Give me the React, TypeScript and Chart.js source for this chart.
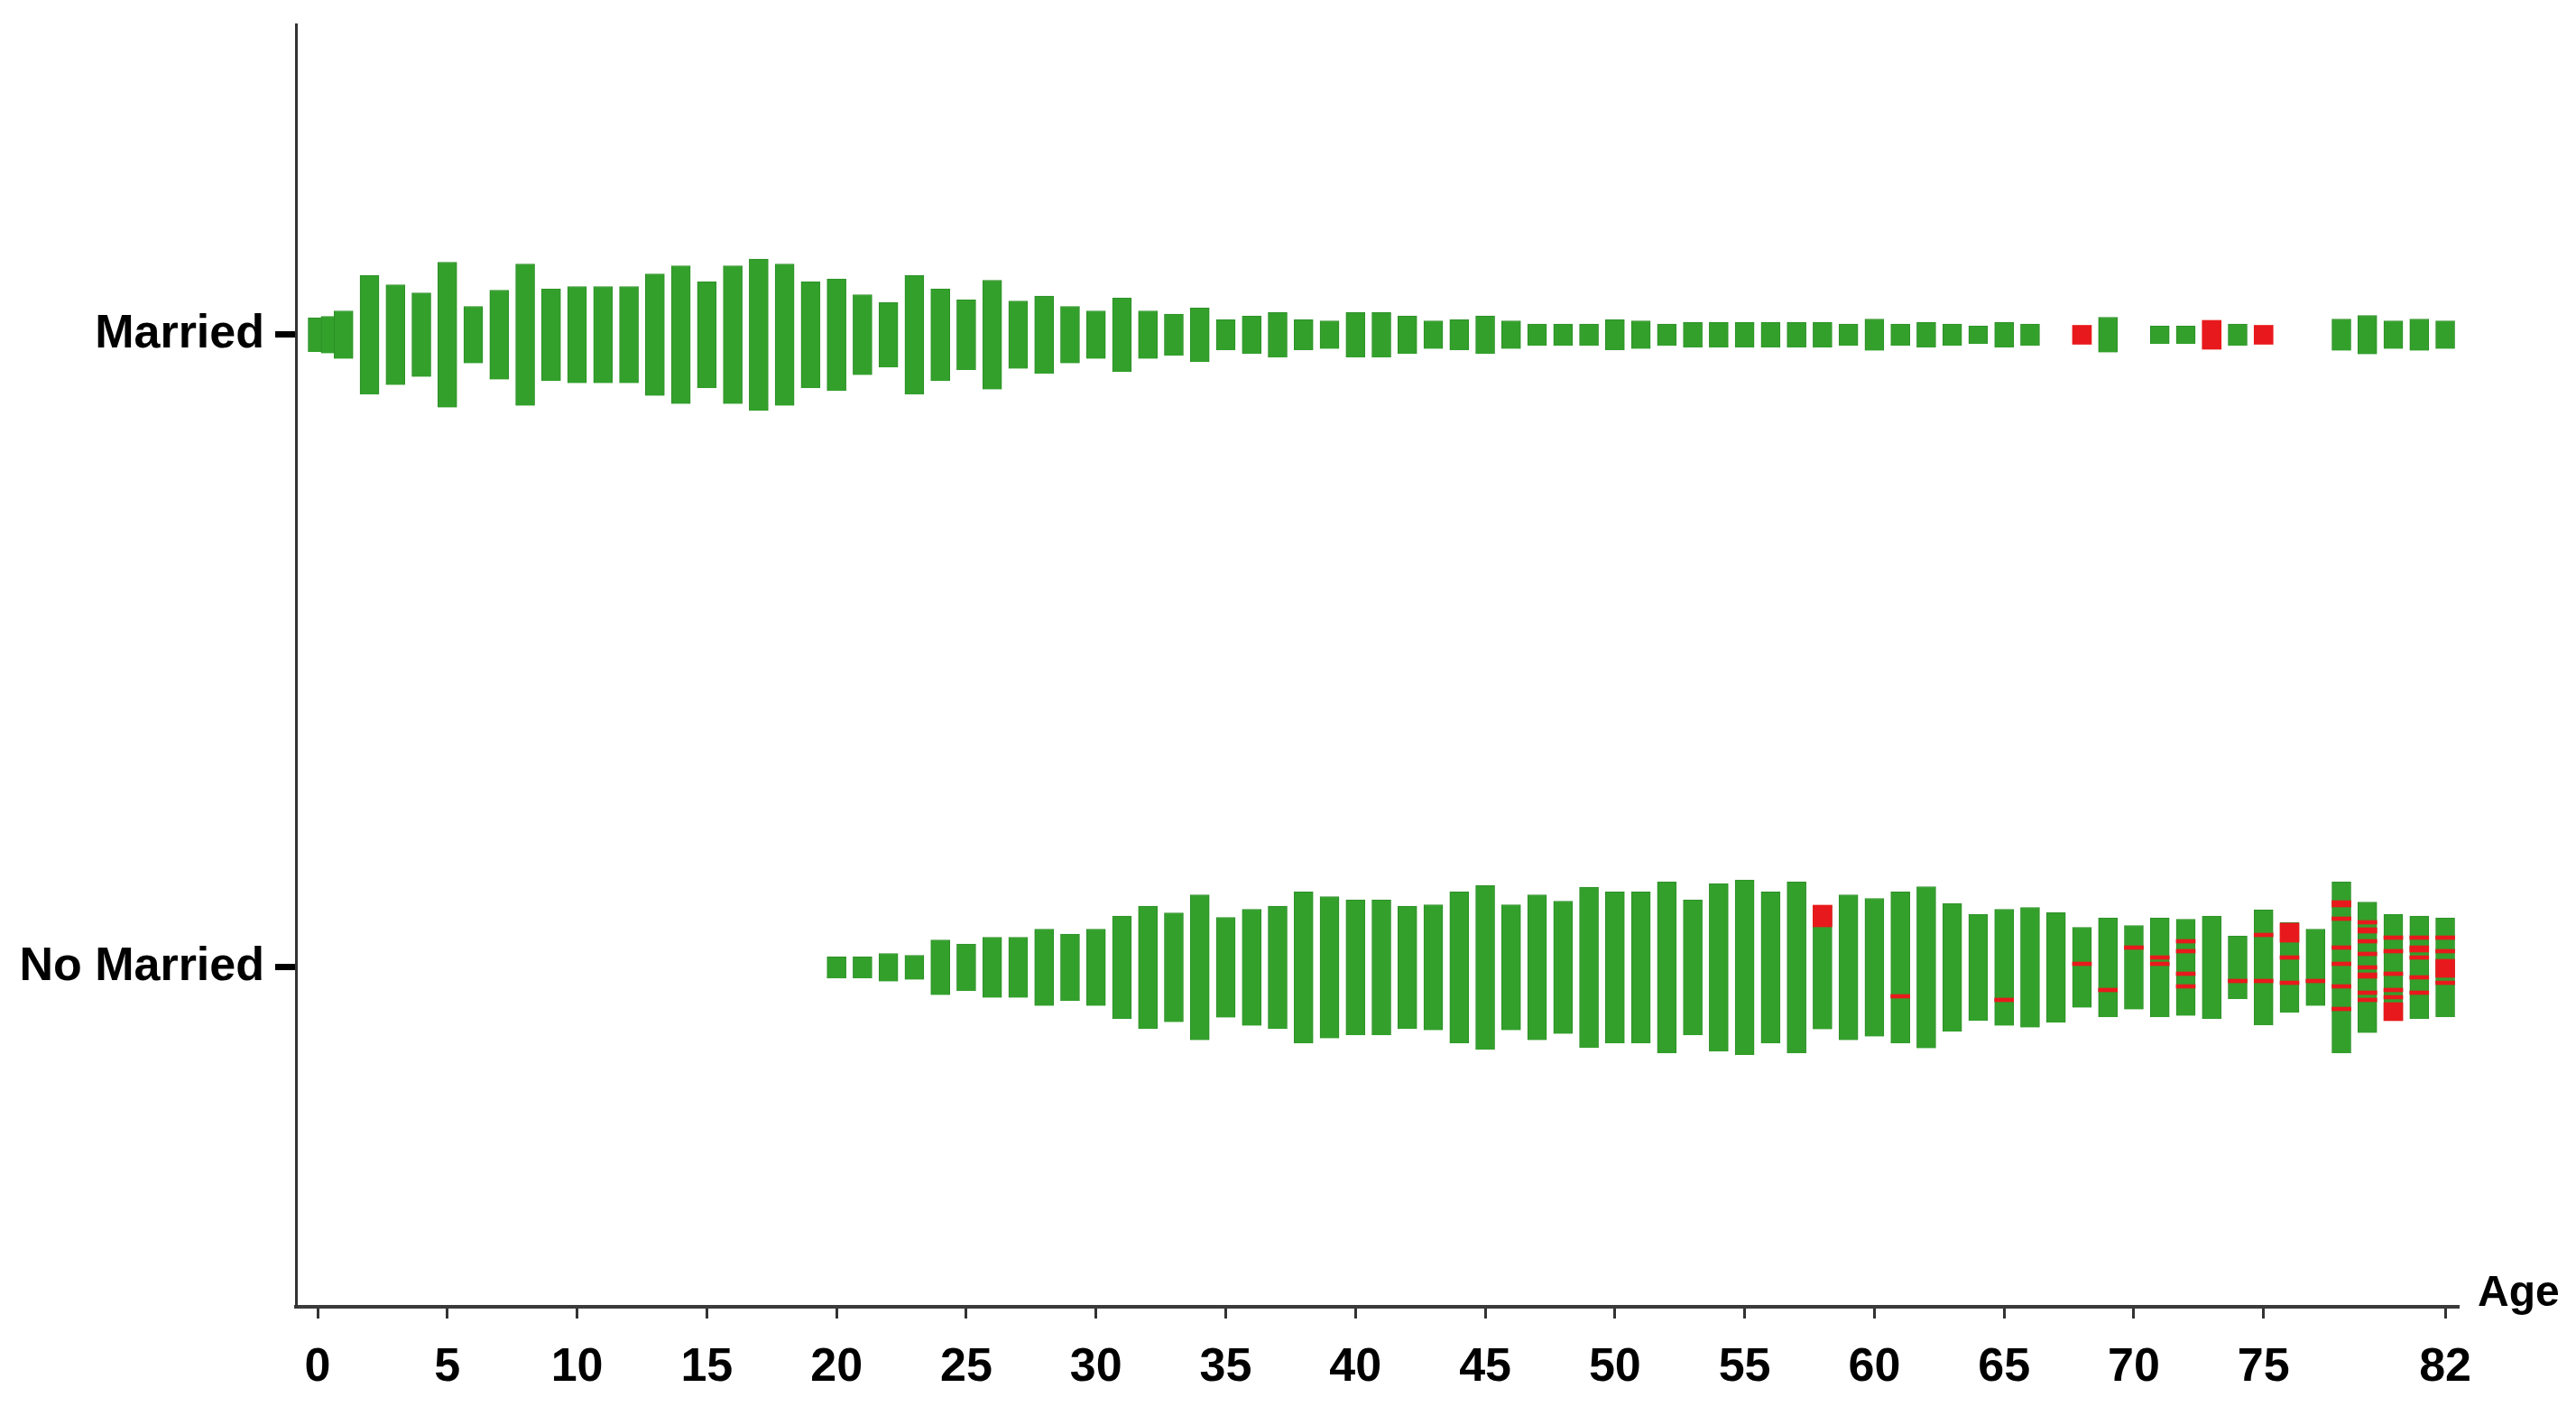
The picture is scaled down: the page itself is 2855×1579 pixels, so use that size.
import React, { useEffect, useRef } from "react";
import { Chart, registerables } from "chart.js";

Chart.register(...registerables);

// ---- categories / ticks ----
const CATEGORIES = ["No Married", "Married"]; // y positions 0 and 1
const X_TICKS = [0, 5, 10, 15, 20, 25, 30, 35, 40, 45, 50, 55, 60, 65, 70, 75, 82];
const X_TITLE = "Age";

// ---- Married: ages and relative frequency (bar height) ----
const MARRIED_AGES = [
  0, 0.5, 1, 2, 3, 4, 5, 6, 7, 8, 9, 10, 11, 12, 13, 14, 15, 16, 17, 18, 19, 20,
  21, 22, 23, 24, 25, 26, 27, 28, 29, 30, 31, 32, 33, 34, 35, 36, 37, 38, 39, 40,
  41, 42, 43, 44, 45, 46, 47, 48, 49, 50, 51, 52, 53, 54, 55, 56, 57, 58, 59, 60,
  61, 62, 63, 64, 65, 66, 69, 71, 72, 74, 78, 79, 80, 81, 82,
];
const MARRIED_FREQ = [
  38, 41, 53, 132, 111, 93, 161, 63, 99, 157, 102, 107, 107, 107, 135, 153, 118, 153, 168, 157, 118, 124,
  89, 72, 132, 102, 78, 121, 75, 86, 63, 53, 82, 53, 46, 60, 34, 42, 50, 34, 31, 50,
  50, 42, 31, 34, 42, 31, 24, 24, 24, 34, 31, 24, 28, 28, 28, 28, 28, 28, 24, 35,
  24, 28, 24, 20, 28, 24, 39, 20, 20, 24, 35, 43, 31, 35, 31,
];
// Married ages drawn in red
const MARRIED_RED_AGES = [68, 73, 75];
const MARRIED_RED_FREQ = [21, 32, 21];

// ---- No Married ----
const NOMARRIED_AGES = [
  20, 21, 22, 23, 24, 25, 26, 27, 28, 29, 30, 31, 32, 33, 34, 35, 36, 37, 38, 39, 40,
  41, 42, 43, 44, 45, 46, 47, 48, 49, 50, 51, 52, 53, 54, 55, 56, 57, 58, 59, 60,
  61, 62, 63, 64, 65, 66, 67, 68, 69, 70, 71, 72, 73, 74, 75, 76, 77, 78, 79, 80, 81, 82,
];
const NOMARRIED_FREQ = [
  24, 24, 31, 27, 61, 52, 67, 67, 85, 74, 85, 114, 136, 121, 161, 111, 129, 136, 168, 157, 150,
  150, 136, 139, 168, 182, 139, 161, 147, 178, 168, 168, 190, 150, 186, 194, 168, 190, 137, 161, 153,
  168, 179, 142, 118, 129, 133, 122, 89, 110, 93, 110, 107, 114, 70, 128, 100, 85, 190, 145, 118, 114, 110,
];
// red segments inside No Married bars (offset from the row centre, same units, + = up)
const NOMARRIED_RED_AGES = [
  58, 61, 65, 68, 69, 70, 71, 71, 72, 72, 72, 72, 74, 75, 75, 76, 76, 76, 77,
  78, 78, 78, 78, 78, 78, 79, 79, 79, 79, 79, 79, 79, 79,
  80, 80, 80, 80, 80, 80, 81, 81, 81, 81, 81, 82, 82, 82, 82,
];
const NOMARRIED_RED_LOW = [
  45, -34, -38, 2, -27, 20, 9, 2, 27, 16, -9, -23, -17, 34, -17, 28, 9, -19, -17,
  67, 52, 20, 2, -23, -48, 48, 38, 27, 13, -2, -12, -30, -38,
  31, 16, -9, -27, -35, -59, 31, 17, 9, -13, -30, 31, 16, -11, -19,
];
const NOMARRIED_RED_HIGH = [
  69, -30, -34, 6, -23, 24, 13, 6, 31, 20, -5, -19, -13, 38, -13, 49, 13, -15, -13,
  74, 56, 24, 6, -19, -44, 52, 44, 31, 17, 2, -6, -26, -34,
  35, 20, -5, -23, -31, -39, 35, 24, 13, -9, -26, 35, 20, 9, -15,
];

const FREQ_PER_CATEGORY = 701; // frequency units spanning the gap between rows

const GREEN = "#33a02c";
const GREEN_EDGE = "#2b8e25";
const RED = "#e8191c";
const FONT_FAMILY = '"Liberation Sans", Arial, sans-serif';

export default function App() {
  const canvasRef = useRef<HTMLCanvasElement | null>(null);

  useEffect(() => {
    if (!canvasRef.current) return;
    const k = 1 / FREQ_PER_CATEGORY;
    const yMarried = CATEGORIES.indexOf("Married");
    const yNo = CATEGORIES.indexOf("No Married");

    const bars = (ages: number[], freq: number[], c: number) =>
      ages.map((a, i) => ({ x: a, y: [c - (freq[i] * k) / 2, c + (freq[i] * k) / 2] }));
    const segs = (ages: number[], lo: number[], hi: number[], c: number) =>
      ages.map((a, i) => ({ x: a, y: [c + lo[i] * k, c + hi[i] * k] }));

    const greenData = [
      ...bars(MARRIED_AGES, MARRIED_FREQ, yMarried),
      ...bars(NOMARRIED_AGES, NOMARRIED_FREQ, yNo),
    ];
    const redData = [
      ...bars(MARRIED_RED_AGES, MARRIED_RED_FREQ, yMarried),
      ...segs(NOMARRIED_RED_AGES, NOMARRIED_RED_LOW, NOMARRIED_RED_HIGH, yNo),
    ];

    const ageLabel = {
      id: "ageLabel",
      afterDraw(chart: any) {
        const { ctx } = chart;
        const x = chart.scales.x;
        ctx.save();
        ctx.font = `bold 48px ${FONT_FAMILY}`;
        ctx.fillStyle = "#000";
        ctx.textAlign = "left";
        ctx.textBaseline = "alphabetic";
        ctx.fillText(X_TITLE, x.right + 21, x.top - 1);
        ctx.restore();
      },
    };

    const tickFont = { family: FONT_FAMILY, size: 52, weight: "bold" as const };

    const chart = new Chart(canvasRef.current, {
      type: "bar",
      data: {
        datasets: [
          {
            label: "red",
            data: redData as any,
            backgroundColor: RED,
            borderWidth: 0,
            stack: "s",
            order: 0,
          },
          {
            label: "green",
            data: greenData as any,
            backgroundColor: GREEN,
            borderColor: GREEN_EDGE,
            borderWidth: 1,
            stack: "s",
            order: 1,
          },
        ],
      },
      options: {
        animation: false,
        responsive: false,
        maintainAspectRatio: false,
        barThickness: 21,
        layout: { padding: { top: 19, right: 122, bottom: 0, left: 0 } },
        plugins: { legend: { display: false }, tooltip: { enabled: false } },
        scales: {
          x: {
            type: "linear",
            min: -0.835,
            max: 82.52,
            offset: false,
            afterBuildTicks: (s: any) => {
              s.ticks = X_TICKS.map((v) => ({ value: v }));
            },
            afterFit: (s: any) => {
              s.height = 123;
            },
            grid: {
              display: true,
              offset: false,
              drawOnChartArea: false,
              drawTicks: true,
              tickLength: 13,
              tickWidth: 3,
              tickColor: "#333",
            },
            border: { display: true, color: "#3a3a3a", width: 4 },
            ticks: {
              autoSkip: false,
              maxRotation: 0,
              padding: 23,
              color: "#000",
              font: tickFont,
              callback: (v: any) => String(v),
            },
          },
          y: {
            type: "linear",
            min: -0.5364,
            max: 1.4907,
            stacked: false,
            afterBuildTicks: (s: any) => {
              s.ticks = CATEGORIES.map((_, i) => ({ value: i }));
            },
            afterFit: (s: any) => {
              s.width = 320;
              s.paddingTop = 0;
              s.paddingBottom = 0;
            },
            grid: {
              display: true,
              drawOnChartArea: false,
              drawTicks: true,
              tickLength: 23,
              tickWidth: 7,
              tickColor: "#000",
            },
            border: { display: true, color: "#333", width: 3 },
            ticks: {
              padding: 12,
              color: "#000",
              font: tickFont,
              callback: (v: any) => CATEGORIES[Math.round(Number(v))] ?? "",
            },
          },
        },
      } as any,
      plugins: [ageLabel],
    });

    return () => chart.destroy();
  }, []);

  return (
    <canvas
      ref={canvasRef}
      width={2839}
      height={1563}
      style={{ display: "block", width: 2839, height: 1563 }}
    />
  );
}
